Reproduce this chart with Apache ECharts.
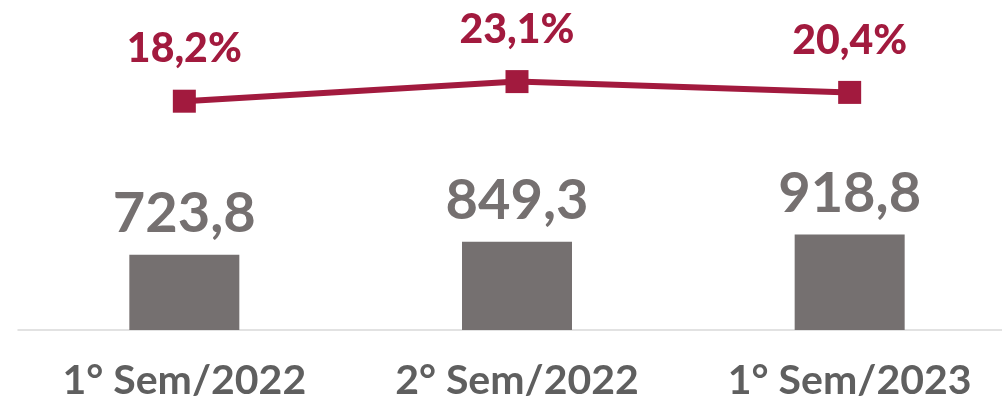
<!DOCTYPE html>
<html>
<head>
<meta charset="utf-8">
<script src="https://cdn.jsdelivr.net/npm/echarts@6/dist/echarts.min.js"></script>
<style>
  html, body { margin: 0; padding: 0; background: #fff; overflow: hidden; }
  /* o eixo continua além da borda direita, como no original */
  #chart { width: 1016px; height: 402px; }
</style>
</head>
<body>
<div id="chart"></div>
<script>
// dados do gráfico
var semestres = ["1° Sem/2022", "2° Sem/2022", "1° Sem/2023"];
var valores = [723.8, 849.3, 918.8];
var percentuais = [18.2, 23.1, 20.4];

function virgula(v, casas) {
  return v.toFixed(casas).replace(".", ",");
}

var myecharts = echarts.init(document.getElementById("chart"));
myecharts.setOption({
  animation: false,
  grid: {
    left: 18,
    right: 0,
    top: 18,
    height: 312,
  },
  xAxis: {
    type: "category",
    data: semestres,
    axisTick: { show: false },
    axisLine: { lineStyle: { color: "#d9d9d9", width: 1.5 } },
    axisLabel: {
      margin: 30,
      color: "#5f5f5f",
      fontFamily: "Lato",
      fontWeight: "bold",
      fontSize: 41,
    },
  },
  yAxis: [
    { type: "value", min: 0, max: 3000, show: false },
    { type: "value", min: -39, max: 39, show: false },
  ],
  series: [
    {
      name: "Valor",
      type: "bar",
      barWidth: 110,
      data: valores,
      itemStyle: { color: "#757070" },
      label: {
        show: true,
        position: "top",
        distance: 13,
        color: "#757070",
        fontFamily: "Lato",
        fontWeight: "bold",
        fontSize: 56,
        formatter: function (p) {
          return virgula(p.value, 1);
        },
      },
    },
    {
      name: "Percentual",
      type: "line",
      yAxisIndex: 1,
      data: percentuais,
      symbol: "rect",
      symbolSize: 23,
      lineStyle: { color: "#a21a3e", width: 6 },
      itemStyle: { color: "#a21a3e" },
      label: {
        show: true,
        position: "top",
        distance: 20,
        color: "#a21a3e",
        fontFamily: "Lato",
        fontWeight: 900,
        fontSize: 41,
        formatter: function (p) {
          return virgula(p.value, 1) + "%";
        },
      },
    },
  ],
});
</script>
</body>
</html>
